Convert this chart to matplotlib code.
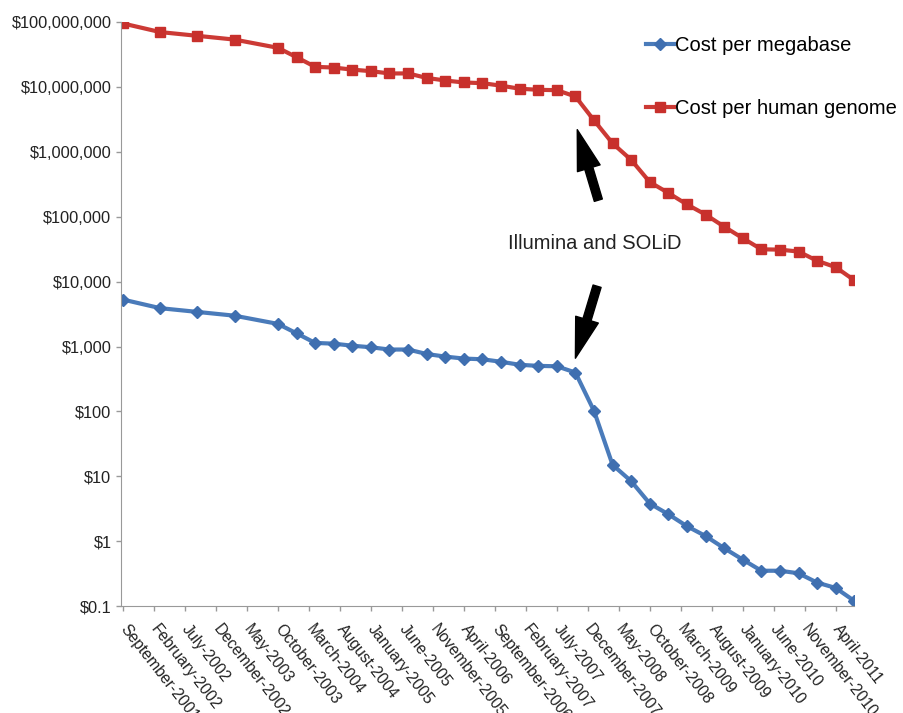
import matplotlib
matplotlib.use("Agg")
import matplotlib.pyplot as plt

plt.rcParams['font.family'] = ['Liberation Sans', 'DejaVu Sans']

# quarterly-ish sampling dates (year, month)
dates = [(2001, 9), (2002, 3), (2002, 9), (2003, 3), (2003, 10),
         (2004, 1), (2004, 4), (2004, 7), (2004, 10),
         (2005, 1), (2005, 4), (2005, 7), (2005, 10),
         (2006, 1), (2006, 4), (2006, 7), (2006, 10),
         (2007, 1), (2007, 4), (2007, 7), (2007, 10),
         (2008, 1), (2008, 4), (2008, 7), (2008, 10),
         (2009, 1), (2009, 4), (2009, 7), (2009, 10),
         (2010, 1), (2010, 4), (2010, 7), (2010, 10),
         (2011, 1), (2011, 4), (2011, 7)]

cost_mb = [5292, 3899, 3414, 2986, 2231,
           1599, 1136, 1107, 1029,
           974, 898, 899, 767,
           699, 652, 636, 582,
           523, 503, 496, 397,
           102, 15.0, 8.4, 3.8,
           2.6, 1.7, 1.2, 0.78,
           0.52, 0.35, 0.35, 0.32,
           0.23, 0.19, 0.12]

cost_genome = [95263072, 70175437, 61448422, 53751684, 40157554,
               28780376, 20442576, 19934346, 18519312,
               17534970, 16159699, 16180224, 13801124,
               12585659, 11732535, 11455315, 10474556,
               9408739, 9047003, 8927342, 7147571,
               3063820, 1352982, 752080, 342502,
               232735, 154714, 108065, 70333,
               46774, 31512, 31125, 29092,
               20963, 16712, 10497]

xlabels = ['September-2001', 'February-2002', 'July-2002', 'December-2002',
           'May-2003', 'October-2003', 'March-2004', 'August-2004',
           'January-2005', 'June-2005', 'November-2005', 'April-2006',
           'September-2006', 'February-2007', 'July-2007', 'December-2007',
           'May-2008', 'October-2008', 'March-2009', 'August-2009',
           'January-2010', 'June-2010', 'November-2010', 'April-2011']

yticks = [0.1, 1, 10, 100, 1000, 1e4, 1e5, 1e6, 1e7, 1e8]
ylabels = ['$0.1', '$1', '$10', '$100', '$1,000', '$10,000', '$100,000',
           '$1,000,000', '$10,000,000', '$100,000,000']

# months since September 2001
x = [(y - 2001) * 12 + m - 9 for y, m in dates]
xticks = [5 * k for k in range(len(xlabels))]

red = '#CC3A35'
blue = '#4A7BBA'

fig = plt.figure(figsize=(9.04, 7.13), dpi=100)
ax = fig.add_axes([0.134, 0.150, 0.811, 0.819])

ax.plot(x, cost_mb, color=blue, lw=3, marker='D', ms=6.5,
        mfc='#3F6FB0', mec='#3F6FB0', label='Cost per megabase')
ax.plot(x, cost_genome, color=red, lw=3, marker='s', ms=7.5,
        mfc='#C8302C', mec='#C8302C', label='Cost per human genome')

ax.set_yscale('log')
ax.set_ylim(0.1, 1e8)
ax.set_xlim(-0.3, 118)
ax.minorticks_off()
ax.set_yticks(yticks)
ax.set_yticklabels(ylabels, fontsize=11.8, color='#222222')
ax.set_xticks(xticks)
ax.set_xticklabels(xlabels, fontsize=11.3, color='#222222', rotation=-52,
                   ha='left', va='center', rotation_mode='anchor')

for s in ['top', 'right']:
    ax.spines[s].set_visible(False)
for s in ['left', 'bottom']:
    ax.spines[s].set_color('#999999')
ax.tick_params(axis='both', color='#999999', length=3.5, width=1)
ax.tick_params(axis='x', pad=11)

arrow = dict(arrowstyle='simple,head_length=1.45,head_width=0.85,tail_width=0.3',
             color='black', shrinkA=0, shrinkB=0, mutation_scale=20)
ax.annotate('', xy=(73.3, 2.2e6), xytext=(76.7, 1.8e5), arrowprops=arrow)
ax.annotate('', xy=(73.0, 6.6e2), xytext=(76.5, 8.5e3), arrowprops=arrow)
ax.text(76.2, 3.9e4, 'Illumina and SOLiD', fontsize=14.5, color='#222222',
        ha='center', va='center')

ax.legend(loc='upper left', bbox_to_anchor=(0.703, 0.963),
          bbox_transform=fig.transFigure, frameon=False, fontsize=14.5,
          labelspacing=2.15, handlelength=1.4, handletextpad=0.05, borderpad=0)

fig.savefig('out.png', dpi=100)
